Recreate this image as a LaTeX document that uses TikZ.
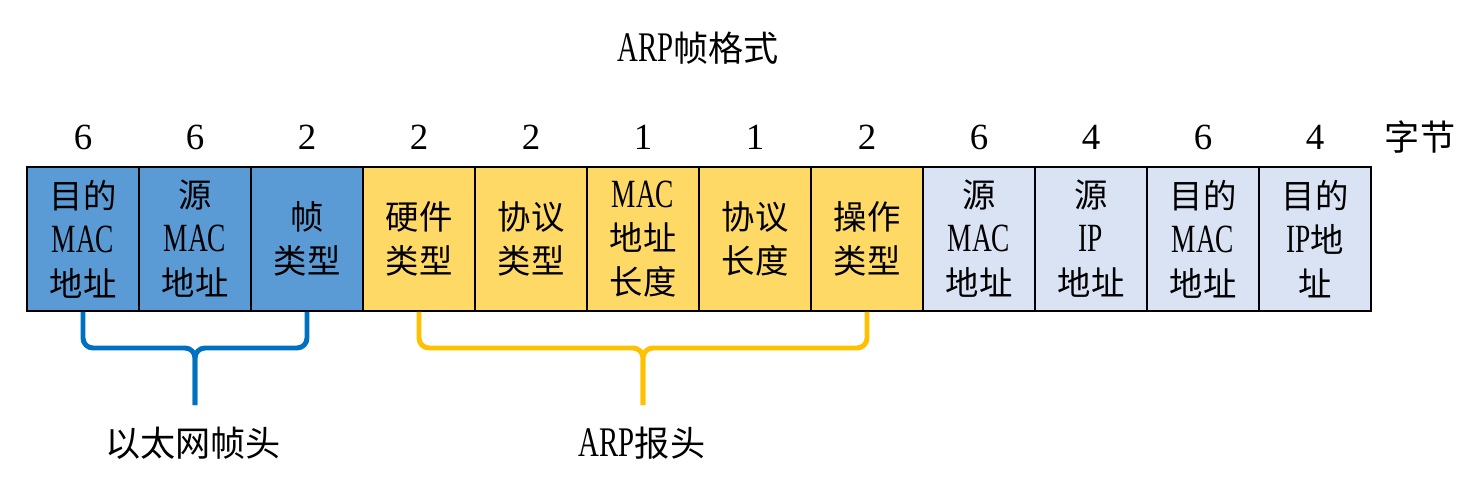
\documentclass[tikz,border=0pt]{standalone}
\usepackage{fontspec}
\setmainfont{Liberation Serif}
\newfontfamily\cjk{Noto Sans CJK SC}
\newcommand{\lat}[1]{\scalebox{0.82}[1.2]{\rmfamily #1}}

\definecolor{ethfill}{HTML}{5B9BD5}
\definecolor{arpfill}{HTML}{FFD966}
\definecolor{addrfill}{HTML}{DAE3F3}
\definecolor{ethline}{HTML}{0070C0}
\definecolor{arpline}{HTML}{FFC000}

\tikzset{
  fieldbox/.style={draw=black, line width=1.1pt, minimum width=2.24cm,
    minimum height=2.88cm, inner sep=0pt, align=center,
    font=\cjk\fontsize{19}{25}\selectfont},
  ethcell/.style={fieldbox, fill=ethfill},
  arpcell/.style={fieldbox, fill=arpfill},
  addrcell/.style={fieldbox, fill=addrfill},
  bytenum/.style={font=\fontsize{21}{24}\selectfont},
  caption/.style={font=\cjk\fontsize{20}{24}\selectfont},
  bracket/.style={line width=2.8pt, rounded corners=0.2cm},
}

\begin{document}
\begin{tikzpicture}[x=0.02cm, y=-0.02cm]
        \useasboundingbox (0,0) rectangle (1483,486);
        \node[caption] (title) at (698,48) {\lat{ARP}帧格式};
        % header fields
        \node[ethcell] (f1) at (83,239) {目的\\\lat{MAC}\\地址};
        \node[ethcell] (f2) at (195,239) {源\\\lat{MAC}\\地址};
        \node[ethcell] (f3) at (307,239) {帧\\类型};
        \node[arpcell] (f4) at (419,239) {硬件\\类型};
        \node[arpcell] (f5) at (531,239) {协议\\类型};
        \node[arpcell] (f6) at (643,239) {\lat{MAC}\\地址\\长度};
        \node[arpcell] (f7) at (755,239) {协议\\长度};
        \node[arpcell] (f8) at (867,239) {操作\\类型};
        \node[addrcell] (f9) at (979,239) {源\\\lat{MAC}\\地址};
        \node[addrcell] (f10) at (1091,239) {源\\\lat{IP}\\地址};
        \node[addrcell] (f11) at (1203,239) {目的\\\lat{MAC}\\地址};
        \node[addrcell] (f12) at (1315,239) {目的\\\lat{IP}地\\址};
        % byte counts
        \foreach \nb [count=\i] in {6,6,2,2,2,1,1,2,6,4,6,4}
            \node[bytenum] (n\i) at (f\i |- 0,137) {\nb};
        \node[caption] (unit) at (1420,137) {字节};
        % braces
        \node[caption] (eth) at (193,443) {以太网帧头};
        \node[caption] (arp) at (642,443) {\lat{ARP}报头};
        \coordinate (ethbar) at (195,348);
        \coordinate (ethtip) at (195,405);
        \coordinate (arpbar) at (643,348);
        \coordinate (arptip) at (643,405);
        \draw[bracket, ethline] (f1.south) |- (ethbar) -- (ethtip);
        \draw[bracket, ethline] (f3.south) |- (ethbar) -- (ethtip);
        \draw[bracket, arpline] (f4.south) |- (arpbar) -- (arptip);
        \draw[bracket, arpline] (f8.south) |- (arpbar) -- (arptip);
    \end{tikzpicture}
\end{document}
